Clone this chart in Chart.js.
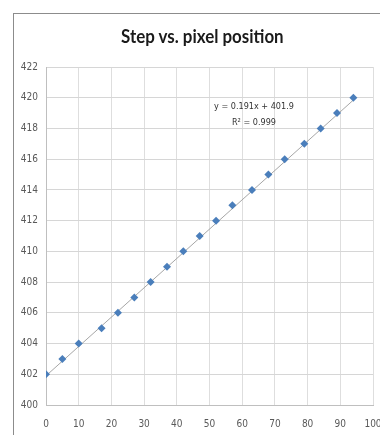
<!DOCTYPE html>
<html lang="en">
<head>
  <meta charset="UTF-8" />
  <title>Step vs. pixel position</title>
  <script src="https://cdn.jsdelivr.net/npm/chart.js"></script>
  <style>
    body { margin: 0; background: #fff; overflow: hidden; }
    .frame {
      position: absolute; left: 13px; top: 13px;
      width: 420px; height: 460px;
      border: 1px solid #8c8c8c;
    }
    #chart { position: absolute; left: 0; top: 0; }
    .title {
      position: absolute; left: 0; top: 24px; width: 404px;
      text-align: center;
      font: bold 19px Lato, sans-serif;
      line-height: 24px;
      color: #1a1a1a;
    }
    .title span { display: inline-block; transform: scaleX(0.89); }
  </style>
</head>
<body>
  <div class="frame"></div>
  <canvas id="chart" width="395" height="435"></canvas>
  <div class="title"><span>Step vs. pixel position</span></div>
  <script>
    // pixel position vs. step
    const pixelPos = [0, 5, 10, 17, 22, 27, 32, 37, 42, 47, 52, 57, 63, 68, 73, 79, 84, 89, 94];
    const steps = [402, 403, 404, 405, 406, 407, 408, 409, 410, 411, 412, 413, 414, 415, 416, 417, 418, 419, 420];
    // linear trendline end points
    const trendX = [0, 94];
    const trendY = [401.9, 419.85];
    const trendLabel = ["y = 0.191x + 401.9", "R\u00B2 = 0.999"];
    const trendLabelAt = { x: 63.6, y: [419.45, 418.35] };

    const labelPlugin = {
      id: "trendLabel",
      afterDatasetsDraw(chart) {
        const { ctx, scales } = chart;
        ctx.save();
        ctx.font = "9px 'Liberation Sans Narrow', 'DejaVu Sans Condensed', sans-serif";
        ctx.fillStyle = "#333333";
        ctx.textAlign = "center";
        ctx.textBaseline = "middle";
        trendLabel.forEach((t, i) => {
          ctx.fillText(t, scales.x.getPixelForValue(trendLabelAt.x), scales.y.getPixelForValue(trendLabelAt.y[i]));
        });
        ctx.restore();
      }
    };

    const tickFont = { family: "'Liberation Sans Narrow', 'DejaVu Sans Condensed', sans-serif", size: 10 };

    new Chart(document.getElementById("chart"), {
      type: "scatter",
      data: {
        datasets: [
          {
            label: "Step",
            data: pixelPos.map((x, i) => ({ x, y: steps[i] })),
            pointStyle: "rectRot",
            pointRadius: 4,
            backgroundColor: "#4a7ebb",
            borderColor: "#4a7ebb",
            borderWidth: 0,
            order: 1
          },
          {
            label: "Trend",
            data: trendX.map((x, i) => ({ x, y: trendY[i] })),
            showLine: true,
            pointRadius: 0,
            borderColor: "#a6a6a6",
            borderWidth: 1,
            order: 2
          }
        ]
      },
      options: {
        responsive: false,
        animation: false,
        layout: { padding: { top: 67, right: 22, bottom: 0, left: 0 } },
        plugins: {
          legend: { display: false },
          tooltip: { enabled: false }
        },
        scales: {
          x: {
            type: "linear",
            min: 0, max: 100,
            ticks: { stepSize: 10, color: "#595959", font: tickFont, padding: 13 },
            grid: { color: "#dedede", drawTicks: false },
            border: { color: "#bfbfbf" },
            afterFit(s) { s.height = 30; }
          },
          y: {
            min: 400, max: 422,
            ticks: { stepSize: 2, color: "#595959", font: tickFont, padding: 8 },
            grid: { color: "#d6d6d6", drawTicks: false },
            border: { color: "#bfbfbf" },
            afterFit(s) { s.width = 46; }
          }
        }
      },
      plugins: [labelPlugin]
    });
  </script>
</body>
</html>
